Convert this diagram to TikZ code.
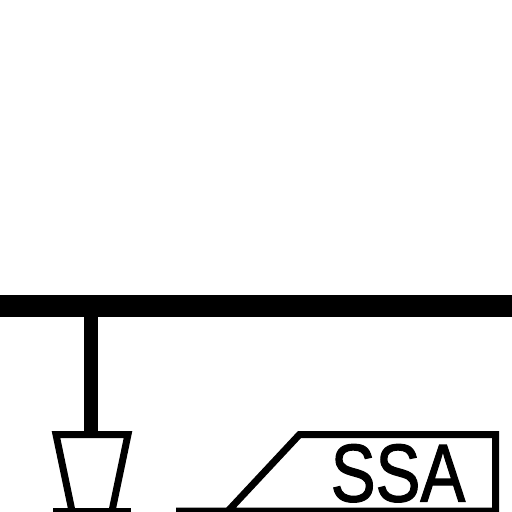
\documentclass[tikz,border=0pt]{standalone}
\usepackage{fontspec}
\setmainfont{Liberation Sans}
\newfontfamily\ssafont[FakeBold=1.6]{Liberation Sans}
\tikzset{
	busline/.style={line width=22pt},
	stemline/.style={line width=14pt},
	symline/.style={line width=7pt, line join=miter}
}
\begin{document}
\begin{tikzpicture}[x=1pt, y=-1pt]
	\useasboundingbox (0, 0) rectangle (512, 512);
	\coordinate (BL)at(0, 306);
	\coordinate (BR)at(512, 306);
	\coordinate (S)at(91, 306);
	\coordinate (T)at(91, 434.5);
	\draw[busline] (BL) -- (BR);
	\draw[stemline] (S) -- (T);
	% trapezoid
	\draw[symline] (72, 511) -- (56, 434.5) -- (128, 434.5) -- (112, 511);
	\draw[symline] (53, 511) -- (131, 511);
	% box with the cut corner
	\draw[symline] (176, 511) -- (495.5, 511) -- (495.5, 434.5) -- (299.5, 434.5) -- (228, 511);
	\node[inner sep=0pt, xscale=0.82, anchor=base] (SSA)at(398, 501.5) {\ssafont\fontsize{82}{90}\selectfont SSA};
\end{tikzpicture}
\end{document}
